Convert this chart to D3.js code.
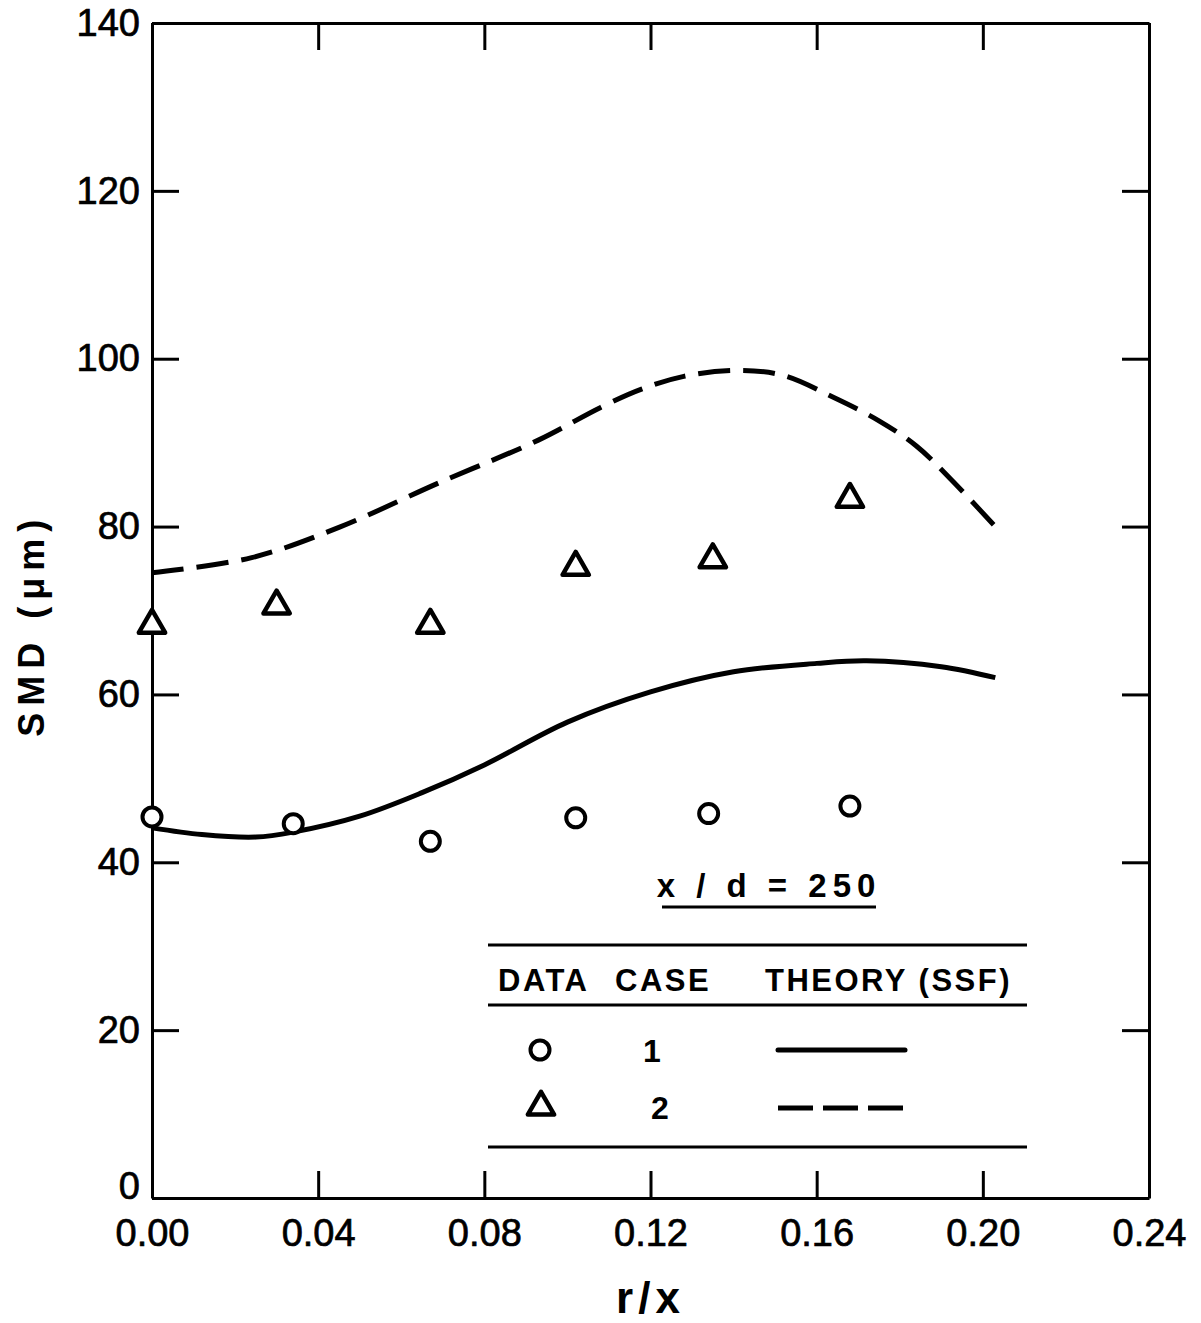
<!DOCTYPE html>
<html>
<head>
<meta charset="utf-8">
<script src="https://cdn.jsdelivr.net/npm/d3@7"></script>
<style>
  body { margin: 0; background: #fff; }
  svg { display: block; }
  .axis path, .axis line { stroke: #000; stroke-width: 3; }
  .axis text { font-family: "Liberation Sans", Arial, sans-serif; font-size: 38px; fill: #000; stroke: #000; stroke-width: 0.7px; }
  .lbl { font-family: "Liberation Sans", Arial, sans-serif; font-weight: bold; fill: #000; }
</style>
</head>
<body>
<div id="chart"></div>
<script>
// data
const xTicks = [0, 0.04, 0.08, 0.12, 0.16, 0.20, 0.24];
const yTicks = [0, 20, 40, 60, 80, 100, 120, 140];

// case 1 measurements (circles)
const case1X = [0.000, 0.034, 0.067, 0.102, 0.134, 0.168];
const case1Y = [45.4, 44.6, 42.5, 45.3, 45.8, 46.7];

// case 2 measurements (triangles)
const case2X = [0.000, 0.030, 0.067, 0.102, 0.135, 0.168];
const case2Y = [68.5, 70.8, 68.5, 75.4, 76.3, 83.5];

// theory (SSF), case 1 - solid
const theory1X = [0.000, 0.012, 0.025, 0.034, 0.050, 0.065, 0.080, 0.100, 0.120, 0.140, 0.160, 0.172, 0.190, 0.203];
const theory1Y = [44.1, 43.3, 43.0, 43.6, 45.5, 48.3, 51.6, 56.7, 60.3, 62.7, 63.7, 64.0, 63.3, 62.0];

// theory (SSF), case 2 - dashed
const theory2X = [0.000, 0.024, 0.045, 0.069, 0.093, 0.108, 0.118, 0.128, 0.141, 0.152, 0.164, 0.175, 0.184, 0.192, 0.203];
const theory2Y = [74.5, 76.3, 79.9, 85.2, 90.3, 94.2, 96.4, 97.9, 98.6, 98.0, 95.4, 92.6, 89.6, 85.8, 80.0];

const margin = {top: 23, right: 52, bottom: 125, left: 152};
const width = 1201 - margin.left - margin.right;
const height = 1323 - margin.top - margin.bottom;

const svg = d3.select("#chart").append("svg")
    .attr("width", 1201)
    .attr("height", 1323)
    .append("g")
    .attr("transform", "translate(" + margin.left + "," + margin.top + ")");

const x = d3.scaleLinear().domain([0, 0.24]).range([0, width]);
const y = d3.scaleLinear().domain([0, 140]).range([height, 0]);

// axes: inward ticks, labels on bottom/left only
const tick = 27;
svg.append("g").attr("class", "axis")
    .attr("transform", "translate(0," + height + ")")
    .call(d3.axisBottom(x).tickValues(xTicks).tickFormat(d3.format(".2f"))
        .tickSizeInner(-tick).tickSizeOuter(0).tickPadding(21));
const yAx = svg.append("g").attr("class", "axis")
    .call(d3.axisLeft(y).tickValues(yTicks).tickFormat(d3.format("d"))
        .tickSizeInner(-tick).tickSizeOuter(0).tickPadding(12));
// the "0" sits a little above its tick in the original
yAx.selectAll(".tick text").filter(d => d === 0).attr("y", -12);
svg.append("g").attr("class", "axis")
    .call(d3.axisTop(x).tickValues(xTicks).tickFormat("")
        .tickSizeInner(-tick).tickSizeOuter(0));
svg.append("g").attr("class", "axis")
    .attr("transform", "translate(" + width + ",0)")
    .call(d3.axisRight(y).tickValues(yTicks).tickFormat("")
        .tickSizeInner(-tick).tickSizeOuter(0));

// axis titles
svg.append("text").attr("class", "lbl")
    .attr("x", x(0.12)).attr("y", height + 115)
    .attr("text-anchor", "middle")
    .style("font-size", "44px").style("letter-spacing", "5px")
    .text("r/x");
svg.append("text").attr("class", "lbl")
    .attr("transform", "translate(" + (-108) + "," + y(68.3) + ") rotate(-90)")
    .attr("text-anchor", "middle")
    .style("font-size", "36px").style("letter-spacing", "7px")
    .text("SMD (μm)");

// theory curves
const line = d3.line().x(d => x(d[0])).y(d => y(d[1])).curve(d3.curveCatmullRom);
svg.append("path")
    .datum(d3.zip(theory1X, theory1Y))
    .attr("fill", "none").attr("stroke", "#000").attr("stroke-width", 5)
    .attr("d", line);
svg.append("path")
    .datum(d3.zip(theory2X, theory2Y))
    .attr("fill", "none").attr("stroke", "#000").attr("stroke-width", 5)
    .attr("stroke-dasharray", "32,13")
    .attr("d", line);

// markers
const tri = d3.symbol().type(d3.symbolTriangle).size(300);
svg.selectAll(".c1").data(d3.zip(case1X, case1Y)).join("circle")
    .attr("cx", d => x(d[0])).attr("cy", d => y(d[1])).attr("r", 9.5)
    .attr("fill", "#fff").attr("stroke", "#000").attr("stroke-width", 4);
svg.selectAll(".c2").data(d3.zip(case2X, case2Y)).join("path")
    .attr("transform", d => "translate(" + x(d[0]) + "," + (y(d[1]) + 2) + ")")
    .attr("d", tri)
    .attr("fill", "#fff").attr("stroke", "#000").attr("stroke-width", 4.5)
    .attr("stroke-linejoin", "round");

// legend (page coordinates shifted into plot group)
const lg = svg.append("g").attr("transform", "translate(" + (-margin.left) + "," + (-margin.top) + ")");
lg.append("text").attr("class", "lbl")
    .attr("x", 769).attr("y", 897).attr("text-anchor", "middle")
    .style("font-size", "33px").style("letter-spacing", "6px")
    .text("x / d = 250");
lg.append("line").attr("x1", 662).attr("x2", 876).attr("y1", 907).attr("y2", 907)
    .attr("stroke", "#000").attr("stroke-width", 3);
[945, 1005, 1147].forEach(yy => {
    lg.append("line").attr("x1", 488).attr("x2", 1027).attr("y1", yy).attr("y2", yy)
        .attr("stroke", "#000").attr("stroke-width", 3);
});
const heads = [["DATA", 498], ["CASE", 615], ["THEORY (SSF)", 765]];
heads.forEach(h => {
    lg.append("text").attr("class", "lbl")
        .attr("x", h[1]).attr("y", 991)
        .style("font-size", "31px").style("letter-spacing", "2.5px")
        .text(h[0]);
});
lg.append("circle").attr("cx", 540).attr("cy", 1050).attr("r", 9.5)
    .attr("fill", "#fff").attr("stroke", "#000").attr("stroke-width", 4);
lg.append("path").attr("transform", "translate(541,1107)").attr("d", tri)
    .attr("fill", "#fff").attr("stroke", "#000").attr("stroke-width", 4.5)
    .attr("stroke-linejoin", "round");
lg.append("text").attr("class", "lbl").attr("x", 652).attr("y", 1062)
    .attr("text-anchor", "middle").style("font-size", "32px").text("1");
lg.append("text").attr("class", "lbl").attr("x", 660).attr("y", 1119)
    .attr("text-anchor", "middle").style("font-size", "32px").text("2");
lg.append("line").attr("x1", 778).attr("x2", 905).attr("y1", 1050).attr("y2", 1050)
    .attr("stroke", "#000").attr("stroke-width", 5).attr("stroke-linecap", "round");
lg.append("line").attr("x1", 778).attr("x2", 903).attr("y1", 1108).attr("y2", 1108)
    .attr("stroke", "#000").attr("stroke-width", 5)
    .attr("stroke-dasharray", "35,10");
</script>
</body>
</html>
